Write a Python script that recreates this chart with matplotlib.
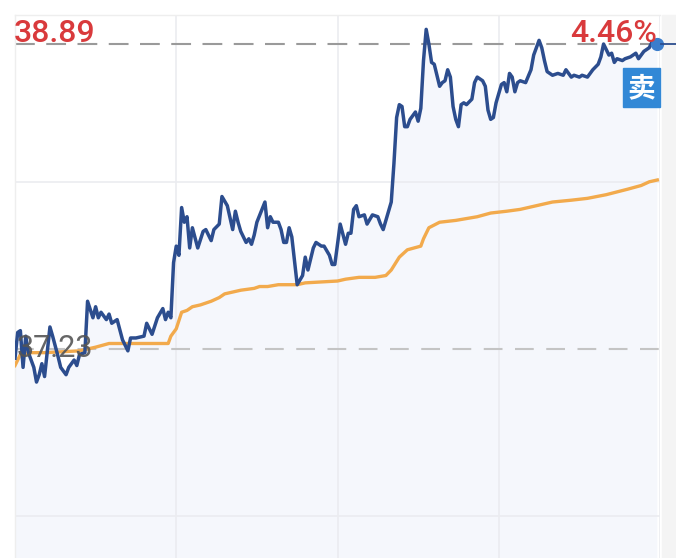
import matplotlib
matplotlib.use("Agg")
import matplotlib.pyplot as plt
from matplotlib.lines import Line2D
from matplotlib.patches import Rectangle

prev_close = 37.23
last_price = 38.89
change_text = "4.46%"
sell_text = "卖"

# minutes after the open, price
price_min = [0, 1, 2, 3, 4, 5, 7, 8, 9, 10, 11, 13, 14, 16, 17, 19, 20, 22, 23, 24,
             26, 27, 29, 30, 31, 32, 34, 35, 36, 38, 40, 42, 43, 45, 48, 49, 51, 53, 55, 56,
             57, 58, 59, 60, 61, 62, 63, 64, 65, 66, 68, 70, 71, 73, 74, 76, 77, 79, 81, 82,
             83, 84, 86, 87, 88, 89, 90, 93, 94, 95, 96, 98, 99, 100, 101, 102, 103, 105, 107, 108,
             109, 111, 112, 114, 115, 117, 118, 119, 121, 123, 124, 125, 126, 127, 128, 130, 131, 133, 135, 136,
             137, 138, 140, 141, 142, 143, 144, 145, 146, 147, 148, 149, 150, 151, 152, 153, 154, 155, 156, 157,
             158, 159, 160, 161, 162, 163, 164, 165, 166, 167, 168, 170, 171, 172, 174, 175, 176, 177, 178, 179,
             181, 182, 183, 184, 185, 186, 187, 188, 190, 192, 193, 195, 196, 197, 198, 200, 202, 204, 205, 207,
             208, 210, 211, 213, 215, 217, 218, 219, 220, 221, 222, 223, 224, 226, 227, 229, 231, 232, 234, 236,
             237, 239]
price = [37.18, 37.32, 37.33, 37.13, 37.30, 37.21, 37.13, 37.05, 37.09, 37.15, 37.08, 37.35, 37.30, 37.19, 37.13, 37.09, 37.13, 37.17, 37.14, 37.20,
         37.21, 37.49, 37.40, 37.46, 37.40, 37.43, 37.39, 37.42, 37.37, 37.39, 37.28, 37.22, 37.29, 37.29, 37.30, 37.37, 37.31, 37.40, 37.45, 37.39,
         37.43, 37.40, 37.70, 37.79, 37.74, 38.00, 37.92, 37.95, 37.78, 37.89, 37.78, 37.87, 37.88, 37.82, 37.88, 37.91, 38.06, 38.01, 37.88, 37.98,
         37.92, 37.87, 37.81, 37.83, 37.80, 37.85, 37.92, 38.03, 37.89, 37.95, 37.92, 37.92, 37.88, 37.81, 37.81, 37.89, 37.84, 37.58, 37.63, 37.73,
         37.66, 37.78, 37.81, 37.79, 37.79, 37.74, 37.69, 37.69, 37.91, 37.80, 37.86, 37.86, 37.99, 38.01, 37.95, 37.96, 37.91, 37.96, 37.95, 37.91,
         37.88, 37.93, 38.03, 38.24, 38.49, 38.56, 38.55, 38.44, 38.44, 38.48, 38.50, 38.52, 38.47, 38.54, 38.80, 38.97, 38.89, 38.79, 38.78, 38.72,
         38.66, 38.68, 38.69, 38.75, 38.71, 38.55, 38.48, 38.44, 38.56, 38.57, 38.56, 38.59, 38.68, 38.71, 38.69, 38.66, 38.53, 38.48, 38.49, 38.57,
         38.67, 38.68, 38.63, 38.73, 38.71, 38.63, 38.68, 38.69, 38.68, 38.75, 38.83, 38.91, 38.87, 38.80, 38.74, 38.72, 38.73, 38.72, 38.75, 38.71,
         38.72, 38.71, 38.72, 38.71, 38.75, 38.78, 38.82, 38.89, 38.86, 38.83, 38.84, 38.79, 38.81, 38.80, 38.81, 38.82, 38.84, 38.81, 38.85, 38.87,
         38.90, 38.89]

avg_min = [0, 2, 5, 11, 24, 30, 35, 45, 57, 58, 60, 62, 64, 66, 69, 71, 73, 76, 78, 81,
           84, 89, 91, 94, 98, 105, 108, 120, 123, 128, 134, 138, 140, 143, 146, 151, 152, 154, 158, 164,
           172, 177, 183, 188, 194, 200, 207, 213, 220, 228, 233, 236, 239]
avg_price = [37.14, 37.20, 37.21, 37.21, 37.22, 37.24, 37.26, 37.26, 37.26, 37.30, 37.34, 37.43, 37.44, 37.46, 37.47, 37.48, 37.49, 37.51, 37.53, 37.54,
             37.55, 37.56, 37.57, 37.57, 37.58, 37.58, 37.59, 37.60, 37.61, 37.62, 37.62, 37.63, 37.66, 37.73, 37.77, 37.79, 37.83, 37.89, 37.92, 37.93,
             37.95, 37.97, 37.98, 37.99, 38.01, 38.03, 38.04, 38.05, 38.07, 38.10, 38.12, 38.14, 38.15]

W, H = 676, 558
blue = "#2c4d8e"
orange = "#f2aa4c"
red = "#d93a3c"
grid = "#ebecf0"

fig = plt.figure(figsize=(W / 100, H / 100), dpi=100)
fig.patch.set_facecolor("white")

# chart runs past the bottom edge of the picture (4 bands, last one cut off)
band = 0.909
left_px, right_px, top_px, bottom_px = 15, 660, 15, 683
ax = fig.add_axes([left_px / W, 1 - bottom_px / H,
                   (right_px - left_px) / W, (bottom_px - top_px) / H])
ax.set_xlim(0, 240)
ax.set_ylim(prev_close - 2 * band, prev_close + 2 * band)
ax.set_xticks([])
ax.set_yticks([])
for side in ["right", "bottom"]:
    ax.spines[side].set_visible(False)
for side in ["top", "left"]:
    ax.spines[side].set_color("#eeeeee")
    ax.spines[side].set_linewidth(1.0)

# right-hand grey strip
fig.add_artist(Rectangle((662 / W, 0), (W - 662) / W, (H - top_px) / H,
                         transform=fig.transFigure, color="#f4f4f4", zorder=0))

ax.fill_between(price_min, price, prev_close - 2 * band, color="#f5f7fc", lw=0, zorder=1)

for t in [60, 120, 180, 240]:
    ax.axvline(t, color=grid, lw=1.2, zorder=2)
for v in [prev_close + band, prev_close - band]:
    ax.axhline(v, color=grid, lw=1.2, zorder=2)

ax.axhline(prev_close, color="#c4c4c4", lw=1.5, dashes=(9, 6), zorder=2)
ax.axhline(last_price, color="#9a9a9a", lw=1.5, dashes=(9.5, 5.5), zorder=2)

ax.plot(avg_min, avg_price, color=orange, lw=2.4, zorder=3, solid_joinstyle="round")
ax.plot(price_min, price, color=blue, lw=2.5, zorder=4, solid_joinstyle="round")
ax.plot(price_min[-1], price[-1], "o", ms=8.5, color="#3b7dcc", zorder=5, clip_on=False)

# last price marker running into the right margin
y_last = 1 - 44 / H
fig.add_artist(Line2D([661 / W, 1], [y_last, y_last], color=blue, lw=1.3,
                      transform=fig.transFigure))

fig.text(14 / W, 1 - 42 / H, f"{last_price:.2f}", fontsize=23, family="Roboto",
         weight="medium", color=red, va="baseline", ha="left")
fig.text(657 / W, 1 - 42 / H, change_text, fontsize=23, family="Roboto",
         weight="medium", color=red, va="baseline", ha="right")
fig.text(17 / W, 1 - 357 / H, f"{prev_close:.2f}", fontsize=22, family="Roboto",
         color="#555555", alpha=0.9, va="baseline", ha="left", zorder=10)

fig.add_artist(Rectangle((623 / W, 1 - 107 / H), 37 / W, 39 / H,
                         transform=fig.transFigure, color="#3288d6", zorder=6))
fig.text(641.5 / W, 1 - 88 / H, sell_text, fontsize=20, color="white", weight="bold",
         family=["Noto Sans CJK SC", "DejaVu Sans"], ha="center", va="center", zorder=7)

fig.savefig("out.png", dpi=100)
